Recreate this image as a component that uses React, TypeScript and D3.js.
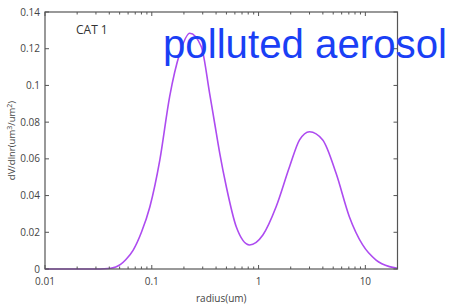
import React from "react";
import * as d3 from "d3";

const radius = [0.01, 0.02, 0.03, 0.036, 0.041, 0.046, 0.051, 0.057, 0.067, 0.08, 0.096, 0.119, 0.147, 0.183, 0.227, 0.291, 0.348, 0.388, 0.433, 0.499, 0.618, 0.824, 1.097, 1.46, 1.95, 2.42, 3.0, 3.99, 5.32, 7.08, 9.44, 12.6, 16.8, 20];
const dvdlnr = [0, 0, 0, 0.0001, 0.0004, 0.0011, 0.0025, 0.005, 0.0103, 0.02, 0.0339, 0.0594, 0.0939, 0.1175, 0.1284, 0.1211, 0.0957, 0.0794, 0.063, 0.0448, 0.023, 0.0131, 0.0185, 0.0339, 0.0557, 0.0703, 0.0748, 0.0703, 0.0521, 0.0285, 0.0131, 0.0049, 0.0013, 0.0004];
const yTicks = [0, 0.02, 0.04, 0.06, 0.08, 0.1, 0.12, 0.14];
const xTicks = [0.01, 0.1, 1, 10];
const xTickLabels = ["0.01", "0.1", "1", "10"];

const W = 451, H = 308;
const L = 45, R = 397.5, T = 12, B = 269;

export default function App() {
  const x = d3.scaleLog().domain([0.01, 20]).range([L, R]);
  const y = d3.scaleLinear().domain([0, 0.14]).range([B, T]);
  const pts: [number, number][] = radius.map((r, i) => [r, dvdlnr[i]]);
  const line = d3.line<[number, number]>().x(d => x(d[0])).y(d => y(d[1])).curve(d3.curveMonotoneX);
  const minor: number[] = [];
  for (let e = -2; e <= 1; e++) for (let k = 2; k <= 9; k++) { const v = k * Math.pow(10, e); if (v <= 20) minor.push(v); }
  const axisColor = "#555";
  const font = "'Open Sans', 'DejaVu Sans', sans-serif";
  return (
    <svg width={W} height={H} style={{ position: "absolute", left: 0, top: 0 }}>
      <rect x={0} y={0} width={W} height={H} fill="#fff" />
      <path d={line(pts) || ""} fill="none" stroke="#ad4bf0" strokeWidth={1.6} />
      <rect x={L} y={T} width={R - L} height={B - T} fill="none" stroke={axisColor} strokeWidth={1.2} />
      {yTicks.map(t => (
        <g key={"y" + t}>
          <line x1={L} x2={L + 4} y1={y(t)} y2={y(t)} stroke={axisColor} />
          <line x1={R - 4} x2={R} y1={y(t)} y2={y(t)} stroke={axisColor} />
          <text x={L - 5} y={y(t)} dy="0.35em" textAnchor="end" fontSize={10} fontFamily={font} fill="#444">{String(t)}</text>
        </g>
      ))}
      {xTicks.map((t, i) => (
        <g key={"x" + t}>
          <line x1={x(t)} x2={x(t)} y1={B} y2={B - 4} stroke={axisColor} />
          <line x1={x(t)} x2={x(t)} y1={T} y2={T + 4} stroke={axisColor} />
          <text x={x(t)} y={B + 16} textAnchor="middle" fontSize={10} fontFamily={font} fill="#444">{xTickLabels[i]}</text>
        </g>
      ))}
      {minor.map(t => (
        <g key={"m" + t}>
          <line x1={x(t)} x2={x(t)} y1={B} y2={B - 2.5} stroke={axisColor} />
          <line x1={x(t)} x2={x(t)} y1={T} y2={T + 2.5} stroke={axisColor} />
        </g>
      ))}
      <text x={(x(0.01) + x(20)) / 2} y={302} textAnchor="middle" fontSize={10} fontFamily={font} fill="#444">radius(um)</text>
      <text transform={`translate(15,${(T + B) / 2}) rotate(-90)`} textAnchor="middle" fontSize={9.5} fontFamily={font} fill="#444">
        dV/dlnr(um<tspan dy={-3} fontSize={7}>3</tspan><tspan dy={3}>/um</tspan><tspan dy={-3} fontSize={7}>2</tspan><tspan dy={3}>)</tspan>
      </text>
      <text x={76} y={34} fontSize={12} fontFamily={font} fill="#333">CAT 1</text>
      <text x={163} y={58} fontSize={40} fontFamily="'Liberation Sans', Arial, sans-serif" fill="#1a3ff5" textLength={284} lengthAdjust="spacingAndGlyphs">polluted aerosol</text>
    </svg>
  );
}
